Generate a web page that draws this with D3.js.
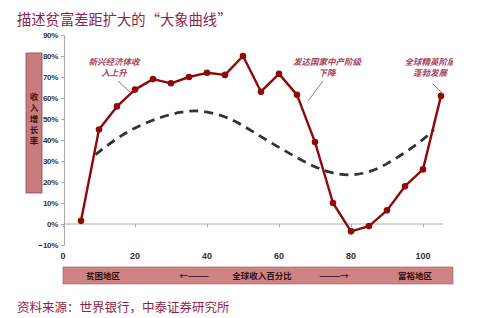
<!DOCTYPE html>
<html><head><meta charset="utf-8">
<script src="https://cdn.jsdelivr.net/npm/d3@7"></script>
<style>body{margin:0;background:#fff;}svg{display:block;}</style>
</head><body>
<svg id="c" width="495" height="318"></svg>
<script>
const title = "描述贫富差距扩大的“大象曲线”";
const source = "资料来源：世界银行，中泰证券研究所";
const yLabel = "收入增长率";
const pct = [5,10,15,20,25,30,35,40,45,50,55,60,65,70,75,80,85,90,95,100,105];
const growth = [1.5,45,56,64,69,67,70,72,71,80,63,71.5,61.5,39,10,-3.5,-1,6.5,18,26,61];
const trendX = [9,15,20,27,33,38,45,50,55,60,65,70,75,80,85,90,95,100,103];
const trendY = [33,41,46,51,53.5,54.3,51.5,47,41.5,36.5,31.5,27,24,23,24.5,28.5,34,40,45];
const yTicks = [-10,0,10,20,30,40,50,60,70,80,90];
const xTicks = [0,20,40,60,80,100];
const notes = [
  {lines:["新兴经济体收","入上升"], cx:114, leader:[[118,81],[130,92]]},
  {lines:["发达国家中产阶级","下降"], cx:327, leader:[[323,81],[308,101]]},
  {lines:["全球精英阶层","蓬勃发展"], cx:430, leader:[[433,84],[443,94]]}
];
const barTexts = [{t:"贫困地区",x:103},{t:"←———",x:194},{t:"全球收入百分比",x:262},{t:"———→",x:334},{t:"富裕地区",x:415}];

const svg = d3.select("#c");
const x = d3.scaleLinear().domain([0,100]).range([63,423]);
const y = d3.scaleLinear().domain([-10,90]).range([245,35]);
const cjk = "'Noto Sans CJK SC', sans-serif";

svg.append("defs").append("clipPath").attr("id","clip").append("rect").attr("x",0).attr("y",0).attr("width",453).attr("height",318);

svg.append("text").attr("x",17).attr("y",25).attr("font-family",cjk).attr("font-size",14.3)
  .attr("fill","#8e1f4f").text(title);
svg.append("text").attr("x",17).attr("y",312).attr("font-family",cjk).attr("font-size",12.5)
  .attr("fill","#8e1f4f").text(source);

// y axis
const ya = svg.append("g").attr("transform",`translate(${x(0)+1},0)`)
  .call(d3.axisLeft(y).tickValues(yTicks).tickSize(3).tickFormat(d=> (d<0?"−":"")+Math.abs(d)+"%"));
ya.select(".domain").attr("stroke","#aaa");
ya.selectAll(".tick line").attr("stroke","#aaa");
ya.selectAll(".tick text").attr("font-family","Arial, 'Liberation Sans', sans-serif").attr("font-size",8)
  .attr("font-weight","bold").attr("fill","#333").attr("letter-spacing","-0.3");

// zero line with ticks
const xa = svg.append("g").attr("transform",`translate(0,${y(0)})`)
  .call(d3.axisBottom(x).tickValues(xTicks).tickSize(3).tickFormat(""));
xa.select(".domain").remove();
xa.selectAll(".tick line").attr("stroke","#aaa");
svg.append("line").attr("x1",x(0)+1).attr("x2",x(105.5)).attr("y1",y(0)).attr("y2",y(0)).attr("stroke","#aaa");
svg.append("g").selectAll("text").data(xTicks).join("text")
  .attr("x",d=>x(d)).attr("y",259).attr("text-anchor","middle")
  .attr("font-family","Arial, 'Liberation Sans', sans-serif").attr("font-size",9).attr("font-weight","bold")
  .attr("fill","#333").text(d=>d);

// y label box
svg.append("rect").attr("x",26).attr("y",53).attr("width",16).attr("height",140)
  .attr("fill","#c97b7e").attr("stroke","#8a4a4a").attr("stroke-width",0.8);
svg.append("g").selectAll("text").data(yLabel.split("")).join("text")
  .attr("x",34).attr("y",(d,i)=>100+i*11).attr("text-anchor","middle")
  .attr("font-family",cjk).attr("font-size",8.5).attr("font-weight","bold").attr("fill","#3a1515").text(d=>d);

// bottom bar
svg.append("rect").attr("x",63).attr("y",267).attr("width",390).attr("height",17)
  .attr("fill","#d08385").attr("stroke","#9a5a5a").attr("stroke-width",0.6);
svg.append("g").selectAll("text").data(barTexts).join("text")
  .attr("x",d=>d.x).attr("y",279).attr("text-anchor","middle")
  .attr("font-family",cjk).attr("font-size",8.5).attr("font-weight","bold").attr("fill","#2a1010").text(d=>d.t);

// dashed trend
svg.append("path").datum(trendX.map((d,i)=>[d,trendY[i]]))
  .attr("d",d3.line().x(d=>x(d[0])).y(d=>y(d[1])).curve(d3.curveBasis))
  .attr("fill","none").attr("stroke","#333").attr("stroke-width",2.8).attr("stroke-dasharray","9,6");

// growth line
const pts = pct.map((d,i)=>[d,growth[i]]);
svg.append("path").datum(pts).attr("d",d3.line().x(d=>x(d[0])).y(d=>y(d[1])))
  .attr("fill","none").attr("stroke","#8e0a0a").attr("stroke-width",2.4).attr("stroke-linejoin","round");
svg.append("g").selectAll("circle").data(pts).join("circle")
  .attr("cx",d=>x(d[0])).attr("cy",d=>y(d[1])).attr("r",3.3).attr("fill","#8e0a0a");

// annotations
const ag = svg.append("g").attr("clip-path","url(#clip)");
notes.forEach(n=>{
  n.lines.forEach((l,i)=>{
    ag.append("text").attr("x",n.cx).attr("y",65+i*11).attr("text-anchor","middle")
      .attr("font-family",cjk).attr("font-size",8.5).attr("font-style","italic").attr("font-weight","bold")
      .attr("fill","#a8455a").text(l);
  });
  ag.append("line").attr("x1",n.leader[0][0]).attr("y1",n.leader[0][1]).attr("x2",n.leader[1][0]).attr("y2",n.leader[1][1])
    .attr("stroke","#a07075").attr("stroke-width",1);
});
</script>
</body></html>
